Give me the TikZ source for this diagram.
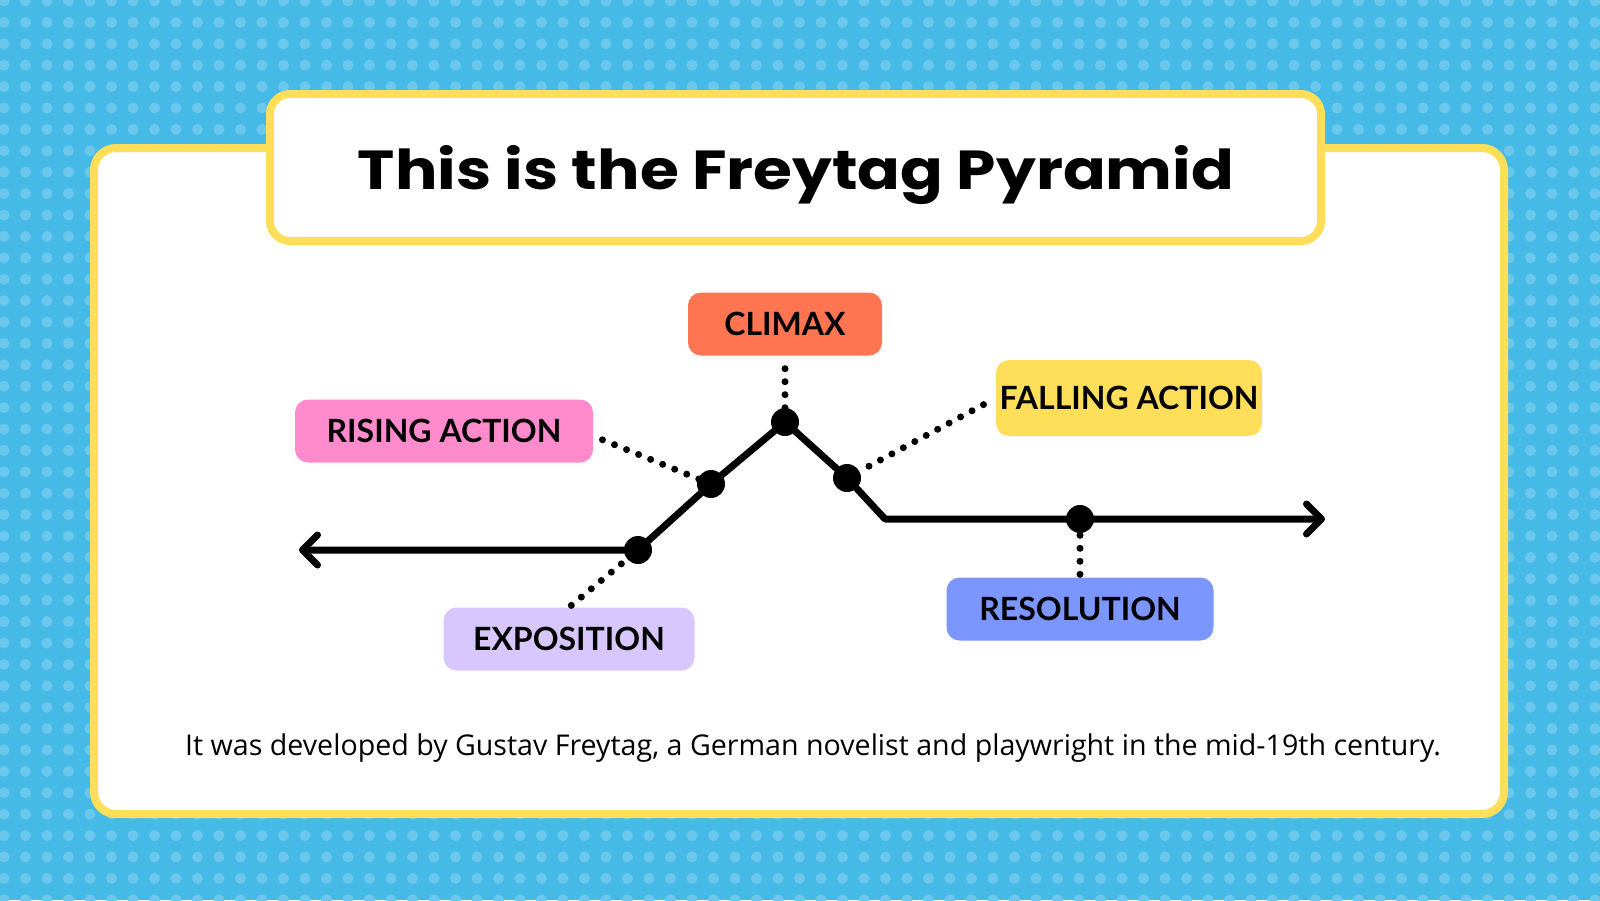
\documentclass[tikz,border=0pt]{standalone}
\usepackage{graphicx}
\usepackage{fontspec}
\setmainfont{Open Sans}
\newfontfamily\labelfont{Lato}
\newfontfamily\titlefont{Poppins}
\usetikzlibrary{arrows.meta}
\definecolor{sky}{HTML}{45BAE6}
\definecolor{skydot}{HTML}{6CC7ED}
\definecolor{gold}{HTML}{FFDE59}
\definecolor{climaxc}{HTML}{FF7552}
\definecolor{risec}{HTML}{FF8ACC}
\definecolor{expoc}{HTML}{D8C7FE}
\definecolor{resc}{HTML}{7B97FF}

\begin{document}
\begin{tikzpicture}[x=1pt,y=-1pt,
    tag/.style={rounded corners=13pt, minimum height=63pt, inner sep=0pt,
        font=\labelfont\bfseries\fontsize{32}{38}\selectfont},
    leader/.style={line width=7pt, line cap=round, dash pattern=on 0pt off 13pt},
    >={Straight Barb[length=15pt, width=30pt, round]}]
    \useasboundingbox (0,0) rectangle (1600,900);
    % background
    \fill[sky] (0,0) rectangle (1600,900);
    \foreach \i in {0,...,74}
        \foreach \j in {0,...,42}
            \fill[skydot] ({4+21.5*\i},{1+21.4*\j}) circle (5.5pt);
    % cards
    \draw[line width=8pt, draw=gold, fill=white, rounded corners=22pt] (94,148) rectangle (1504,814);
    \draw[line width=8pt, draw=gold, fill=white, rounded corners=20pt] (270,94) rectangle (1321,241);
    \node[anchor=base] (title) at (796,189)
        {\titlefont\bfseries\resizebox{876pt}{44pt}{This is the Freytag Pyramid}};
    % plot line
    \coordinate (tipL) at (299,550);
    \coordinate (expo) at (638,550);
    \coordinate (rise) at (711,484);
    \coordinate (peak) at (785,422);
    \coordinate (fall) at (847,478);
    \coordinate (bend) at (885,519);
    \coordinate (res) at (1080,519);
    \coordinate (tipR) at (1325,519);
    \draw[line width=7pt, line join=round, <->]
        (tipL) -- (expo) -- (rise) -- (peak) -- (fall) -- (bend) -- (res) -- (tipR);
    \foreach \p in {expo,rise,peak,fall,res}
        \fill (\p) circle (14pt);
    % labels
    \node[tag, fill=climaxc, minimum width=194pt] (climax) at (785,324) {CLIMAX};
    \node[tag, fill=risec, minimum width=298pt] (rising) at (444,431) {RISING ACTION};
    \node[tag, fill=gold, minimum width=266pt, minimum height=76pt] (falling) at (1129,398) {FALLING ACTION};
    \node[tag, fill=expoc, minimum width=251pt] (exposition) at (569,639) {EXPOSITION};
    \node[tag, fill=resc, minimum width=267pt] (resolution) at (1080,609) {RESOLUTION};
    % leaders
    \draw[leader, shorten <=13pt, shorten >=14pt] (climax.south) -- (peak);
    \draw[leader, shorten <=10pt, shorten >=12pt] (rising.east |- 0,436) -- (rise);
    \draw[leader, shorten <=14pt, shorten >=14pt] (falling.west) -- (fall);
    \draw[leader, shorten <=3pt, shorten >=11pt] (exposition.north) -- (expo);
    \draw[leader, shorten <=3pt, shorten >=14pt] (resolution.north) -- (res);
    % note
    \node[font=\fontsize{28.6}{34}\selectfont] (note) at (813,748)
        {It was developed by Gustav Freytag, a German novelist and playwright in the mid-19th century.};
\end{tikzpicture}
\end{document}
